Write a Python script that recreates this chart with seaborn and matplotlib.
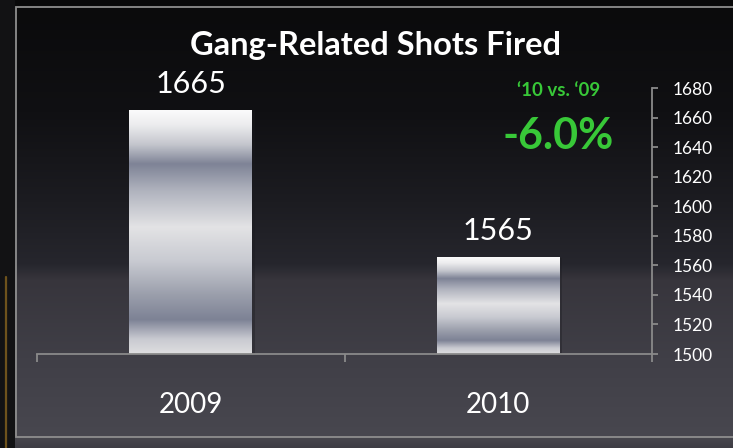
import numpy as np
import matplotlib
matplotlib.use('Agg')
import matplotlib.pyplot as plt
from matplotlib.patches import Rectangle
from matplotlib.colors import to_rgb
import seaborn as sns
import pandas as pd

# ---- data ----
years = ['2009', '2010']
shots = [1665, 1565]
title = 'Gang-Related Shots Fired'
change_label = '\u201810 vs. \u201809'
change_value = '-6.0%'
y_ticks = list(range(1500, 1681, 20))

sns.set_theme(style='white')
plt.rcParams['font.family'] = ['Lato', 'DejaVu Sans']

W, H = 733, 448
fig = plt.figure(figsize=(W / 100, H / 100), dpi=100)
fig.patch.set_facecolor('#0a0a0a')


def vgrad(stops, n):
    pos = [s[0] for s in stops]
    cols = np.array([to_rgb(s[1]) for s in stops])
    t = np.linspace(0, 1, n)
    return np.stack([np.interp(t, pos, cols[:, i]) for i in range(3)], axis=-1)


# ---- background ----
bg = fig.add_axes([0, 0, 1, 1])
bg.set_axis_off()
col = vgrad([(0.0, '#09090a'), (0.02, '#0b0b0c'), (0.25, '#101013'),
             (0.45, '#1c1c21'), (0.59, '#26262d'), (0.625, '#37353c'),
             (0.80, '#403f47'), (0.975, '#48474f'), (1.0, '#3e3d44')], H)
img = np.repeat(col[:, None, :], W, axis=1)
img[:, :15] = np.array(to_rgb('#121214'))
bg.imshow(img, extent=[0, W, H, 0], origin='upper', aspect='auto', zorder=0)
bg.plot([5.5, 5.5], [277, 448], color='#6e521c', lw=1.6, zorder=1)
bg.add_patch(Rectangle((15.5, 7.5), 718, 429.5, fill=False, ec='#8e8e8e', lw=1.3, zorder=2))
bg.set_xlim(0, W)
bg.set_ylim(H, 0)

# ---- main chart ----
ax = fig.add_axes([37 / W, 94 / H, 615 / W, 266 / H])
ax.patch.set_alpha(0)
df = pd.DataFrame({'year': years, 'shots': shots})
sns.barplot(data=df, x='year', y='shots', ax=ax, width=0.4, color='white',
            saturation=1, errorbar=None)

bar_grad = vgrad([(0.0, '#fbfbfb'), (0.06, '#ececee'), (0.14, '#c4c6cd'),
                  (0.22, '#7e8396'), (0.33, '#b0b3be'), (0.48, '#e3e3e5'),
                  (0.62, '#c8cad1'), (0.76, '#9a9eab'), (0.86, '#7d8295'),
                  (0.94, '#c9cad1'), (1.0, '#dedee0')], 256)
for p in ax.patches:
    x0, w, h = p.get_x(), p.get_width(), p.get_height()
    p.set_facecolor('none')
    p.set_edgecolor('none')
    ax.imshow(bar_grad[:, None, :], extent=[x0, x0 + w, 1500, h], origin='upper',
              aspect='auto', zorder=2)
    ax.add_patch(Rectangle((x0 + w, 1500), 0.008, h - 1500, color='#1a1a1f',
                           alpha=0.35, lw=0, zorder=1.9))

ax.bar_label(ax.containers[0], labels=[str(v) for v in shots], padding=9,
             color='white', fontsize=22)

ax.set_xlim(-0.5, 1.5)
ax.set_ylim(1500, 1680)
ax.set_xlabel('')
ax.set_ylabel('')
for s in ['left', 'top']:
    ax.spines[s].set_visible(False)
for s in ['bottom', 'right']:
    ax.spines[s].set_color('#8a8a8a')
    ax.spines[s].set_linewidth(1.3)

ax.yaxis.tick_right()
ax.set_yticks(y_ticks)
ax.tick_params(axis='y', which='major', right=True, left=False, length=4, width=1.3,
               color='#8a8a8a', labelcolor='white', labelsize=12.5, pad=11, direction='out')
ax.tick_params(axis='x', which='major', length=0, pad=27, labelsize=20,
               labelcolor='white', bottom=True)
ax.set_xticks([-0.5, 0.5, 1.5], minor=True)
ax.tick_params(axis='x', which='minor', bottom=True, length=6, width=1.3,
               color='#8a8a8a', direction='out')
ax.grid(False)

# ---- texts ----
fig.text(375 / W, 1 - 45 / H, title, ha='center', va='center', fontsize=23.5,
         fontweight='bold', color='white')
fig.text(559 / W, 1 - 90 / H, change_label, ha='center', va='center', fontsize=13.5,
         fontweight='bold', color='#38c838')
fig.text(558 / W, 1 - 136 / H, change_value, ha='center', va='center', fontsize=31,
         fontweight='bold', color='#38c838')

fig.savefig('out.png', dpi=100, facecolor=fig.get_facecolor())
